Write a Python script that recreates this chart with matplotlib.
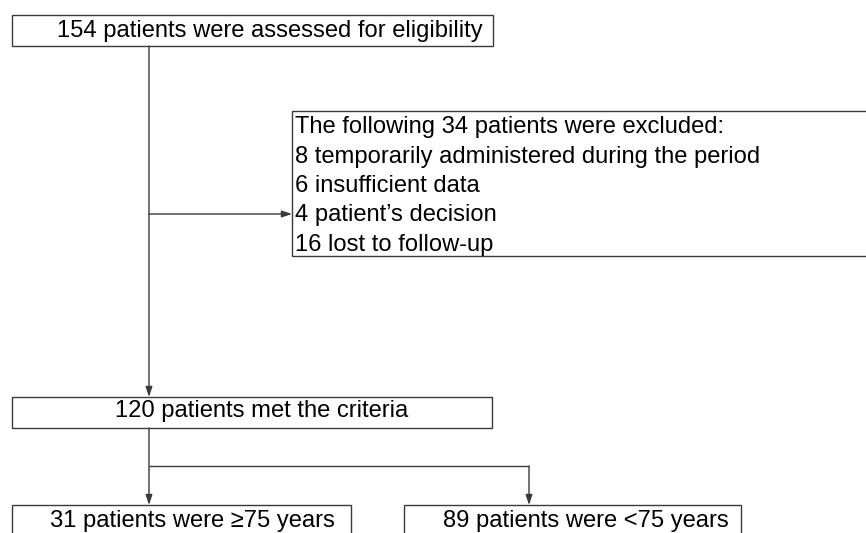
import matplotlib.pyplot as plt
from matplotlib.patches import Rectangle

plt.rcParams['font.family'] = ['Liberation Sans', 'DejaVu Sans']

# Flowchart content
screened_n = 154
excluded_n = 34
excluded_counts = [8, 6, 4, 16]
excluded_reasons = ["temporarily administered during the period",
                    "insufficient data",
                    "patient\u2019s decision",
                    "lost to follow-up"]
included_n = 120
group_counts = [31, 89]
group_labels = ["\u226575 years", "<75 years"]

# Layout in pixel coordinates (x0, x1, y0, y1), y downwards
top_box = (12, 493, 15, 46)
excl_box = (292, 875, 110.5, 255.5)
met_box = (12, 492, 397, 428)
group_boxes = [(12, 351, 505, 545), (404, 741, 505, 545)]
trunk_x = 149
branch_x = 529
branch_y = 466

edge = '#3a3a3a'
fs = 17.1

fig = plt.figure(figsize=(8.66, 5.33), dpi=100)
ax = fig.add_axes([0, 0, 1, 1])
ax.set_xlim(0, 866)
ax.set_ylim(533, 0)
ax.axis('off')


def box(b):
    x0, x1, y0, y1 = b
    ax.add_patch(Rectangle((x0, y0), x1 - x0, y1 - y0, fill=False,
                           edgecolor=edge, lw=1.0))


def arrow(p0, p1):
    ax.annotate("", xy=p1, xytext=p0,
                arrowprops=dict(arrowstyle="-|>,head_length=0.6,head_width=0.2",
                                color=edge, lw=1.0, shrinkA=0, shrinkB=0,
                                mutation_scale=10))


def line(xs, ys):
    ax.plot(xs, ys, color=edge, lw=1.0, solid_capstyle='butt')


for b in [top_box, excl_box, met_box] + group_boxes:
    box(b)

ax.text(57, 37.5, f"{screened_n} patients were assessed for eligibility",
        fontsize=fs, va='baseline', ha='left')

excl_lines = [f"The following {excluded_n} patients were excluded:"]
excl_lines += [f"{n} {r}" for n, r in zip(excluded_counts, excluded_reasons)]
for i, t in enumerate(excl_lines):
    ax.text(295, 133 + i * 29.5, t, fontsize=fs, va='baseline', ha='left')

ax.text(115, 417, f"{included_n} patients met the criteria",
        fontsize=fs, va='baseline', ha='left')

group_text_x = [50, 443]
for (n, lab), tx in zip(zip(group_counts, group_labels), group_text_x):
    ax.text(tx, 527, f"{n} patients were {lab}", fontsize=fs,
            va='baseline', ha='left')

# connectors
arrow((trunk_x, top_box[3]), (trunk_x, met_box[2]))
arrow((trunk_x, 214), (excl_box[0], 214))
arrow((trunk_x, met_box[3]), (trunk_x, group_boxes[0][2]))
line([trunk_x, branch_x], [branch_y, branch_y])
arrow((branch_x, branch_y), (branch_x, group_boxes[1][2]))

fig.savefig("out.png", dpi=100)
